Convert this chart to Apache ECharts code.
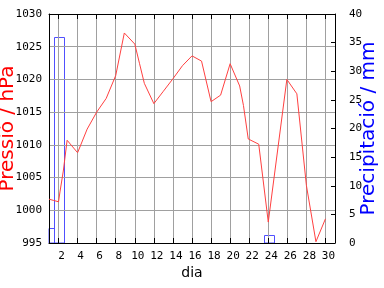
<!DOCTYPE html>
<html><head><meta charset="utf-8">
<script src="https://cdn.jsdelivr.net/npm/echarts@6/dist/echarts.min.js"></script>
<style>html,body{margin:0;padding:0;background:#fff}#c{width:384px;height:288px}</style>
</head><body><div id="c"></div>
<script>
// Pressure (hPa) readings: day position and value
var pressureDays = [1.0, 1.5, 2.0, 2.15, 2.5, 2.9, 4.0, 5.0, 6.0, 7.0, 8.0, 8.9, 10.0, 10.5, 11.0, 12.0, 13.0, 14.0, 15.0, 16.0, 17.0, 18.0, 19.0, 20.0, 21.0, 21.4, 21.9, 23.0, 24.0, 25.95, 27.0, 28.0, 29.0, 30.0];
var pressureValues = [1001.7, 1001.5, 1001.3, 1002.8, 1006.0, 1010.7, 1008.8, 1012.4, 1015.0, 1017.1, 1020.6, 1027.1, 1025.4, 1022.4, 1019.4, 1016.3, 1018.2, 1020.1, 1022.1, 1023.6, 1022.8, 1016.6, 1017.6, 1022.4, 1019.0, 1016.0, 1010.9, 1010.1, 998.2, 1020.0, 1017.8, 1003.8, 995.2, 998.7];
// Precipitation (mm)
var rainDays = [1, 2, 24];
var rainValues = [2.7, 36, 1.4];
// Axis ticks
var dayTicks = [2, 4, 6, 8, 10, 12, 14, 16, 18, 20, 22, 24, 26, 28, 30];

var pressureData = pressureDays.map(function (d, i) { return [d, pressureValues[i]]; });
var rainData = rainDays.map(function (d, i) { return [d, rainValues[i]]; });

var monoLabel = { fontFamily: 'DejaVu Sans Mono', fontSize: 11, color: '#000', formatter: function (v) { return String(v); } };

function renderRainBar(params, api) {
  var day = api.value(0), v = api.value(1);
  var p0 = api.coord([day - 0.5, 0]);
  var p1 = api.coord([day + 0.5, v]);
  var cs = params.coordSys;
  var rect = echarts.graphic.clipRectByRect(
    { x: Math.round(p0[0]) + 0.5, y: Math.round(p1[1]) + 0.5, width: Math.round(p1[0] - p0[0]), height: Math.round(p0[1] - p1[1]) },
    { x: cs.x, y: cs.y, width: cs.width, height: cs.height }
  );
  if (!rect) return null;
  return { type: 'rect', shape: rect, style: { fill: 'none', stroke: '#5050ff', lineWidth: 1 } };
}

var chart = echarts.init(document.getElementById('c'), null, { renderer: 'canvas' });
chart.setOption({
  animation: false,
  backgroundColor: '#fff',
  grid: { left: 49, right: 49, top: 14, bottom: 45, containLabel: false, outerBoundsMode: 'none' },
  xAxis: [{
    type: 'value', min: 1, max: 31, position: 'bottom',
    name: 'dia', nameLocation: 'middle', nameGap: 23, nameMoveOverlap: false,
    nameTextStyle: { fontFamily: 'DejaVu Sans', fontSize: 14, color: '#000' },
    axisLine: { show: true, lineStyle: { color: '#000', width: 1 } },
    axisTick: { show: true, inside: true, length: 5, customValues: dayTicks, lineStyle: { color: '#000' } },
    axisLabel: Object.assign({ show: true, margin: 8, customValues: dayTicks, padding: [0, 0, 0, 6] }, monoLabel),
    splitLine: { show: true, lineStyle: { color: '#a0a0a0', width: 1 } }
  }, {
    type: 'value', min: 1, max: 31, position: 'top',
    axisLine: { show: true, lineStyle: { color: '#000', width: 1 } },
    axisTick: { show: true, inside: true, length: 5, customValues: dayTicks, lineStyle: { color: '#000' } },
    axisLabel: { show: false },
    splitLine: { show: false }
  }],
  yAxis: [{
    type: 'value', min: 995, max: 1030, interval: 5, position: 'left',
    name: 'Pressió / hPa', nameLocation: 'middle', nameGap: 31, nameRotate: 90, nameMoveOverlap: false,
    nameTextStyle: { fontFamily: 'DejaVu Sans', fontSize: 20, color: '#ff0000' },
    axisLine: { show: true, lineStyle: { color: '#000', width: 1 } },
    axisTick: { show: false },
    axisLabel: Object.assign({ margin: 7 }, monoLabel),
    splitLine: { show: true, lineStyle: { color: '#a0a0a0', width: 1 } }
  }, {
    type: 'value', min: 0, max: 40, interval: 5, position: 'right',
    name: 'Precipitació / mm', nameLocation: 'middle', nameGap: 24, nameRotate: 90, nameMoveOverlap: false,
    nameTextStyle: { fontFamily: 'DejaVu Sans', fontSize: 20, color: '#0000ff' },
    axisLine: { show: true, lineStyle: { color: '#000', width: 1 } },
    axisTick: { show: true, inside: true, length: 4, lineStyle: { color: '#000' } },
    axisLabel: Object.assign({ margin: 14 }, monoLabel),
    splitLine: { show: false }
  }],
  series: [{
    type: 'custom', xAxisIndex: 0, yAxisIndex: 1, data: rainData, z: -1,
    renderItem: renderRainBar, encode: { x: 0, y: 1 }
  }, {
    type: 'line', xAxisIndex: 0, yAxisIndex: 0, data: pressureData,
    showSymbol: false, symbol: 'none',
    lineStyle: { color: '#ff4040', width: 1 }
  }]
});
</script></body></html>
